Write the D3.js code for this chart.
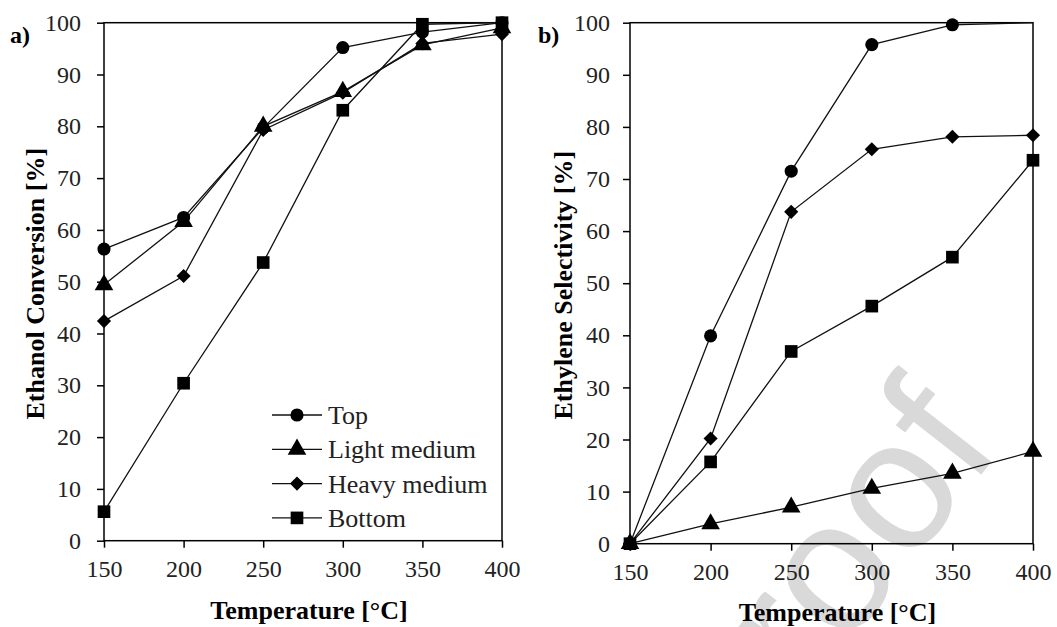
<!DOCTYPE html>
<html>
<head>
    <title>Conversion and selectivity</title>
    <script src="https://d3js.org/d3.v7.min.js"></script>
    <style>
        body { margin: 0; background: #fff; }
        #chart text { font-family: "Liberation Serif", "Times New Roman", serif; }
        #chart text.wm { font-family: "Liberation Sans", Arial, sans-serif; }
    </style>
</head>
<body>
<svg id="chart"></svg>
<script>
// temperatures [°C]
const temps = [150, 200, 250, 300, 350, 400];
const seriesNames = ["Top", "Light medium", "Heavy medium", "Bottom"];
const yTicks = [0, 10, 20, 30, 40, 50, 60, 70, 80, 90, 100];

// a) ethanol conversion [%]
const convTop    = [56.3, 62.4, 79.7, 95.2, 98.2, 100];
const convLight  = [49.4, 61.6, 80.0, 86.7, 95.7, 99.0];
const convHeavy  = [42.4, 51.1, 79.3, 86.5, 96.0, 97.8];
const convBottom = [5.6, 30.4, 53.7, 83.1, 99.7, 100];

// b) ethylene selectivity [%]
const selTop    = [0, 39.9, 71.5, 95.8, 99.6, 100];
const selLight  = [0, 3.8, 7.0, 10.6, 13.5, 17.7];
const selHeavy  = [0, 20.2, 63.7, 75.7, 78.1, 78.4];
const selBottom = [0, 15.7, 36.9, 45.6, 55.0, 73.6];

const W = 1057, H = 627;

const svg = d3.select('#chart').attr('width', W).attr('height', H);

// watermark behind everything
svg.append('text')
    .attr('class', 'wm')
    .attr('transform', 'translate(1003,447) rotate(-52)')
    .attr('text-anchor', 'end')
    .attr('font-size', '185px')
    .attr('fill', '#d9d9d9')
    .text('Pre-proof');

const symbols = [
    d3.symbol().type(d3.symbolCircle).size(135),
    d3.symbol().type(d3.symbolTriangle).size(150),
    d3.symbol().type(d3.symbolSquare).size(100),   // rotated -> diamond
    d3.symbol().type(d3.symbolSquare).size(160)
];
const rotations = [0, 0, 45, 0];

function drawPanel(opt) {
    const x = d3.scaleLinear().domain([150, 400]).range([opt.left, opt.right]);
    const y = d3.scaleLinear().domain([0, 100]).range([opt.bottom, opt.top]);
    const g = svg.append('g');

    // frame
    g.append('rect')
        .attr('x', opt.left).attr('y', opt.top)
        .attr('width', opt.right - opt.left).attr('height', opt.bottom - opt.top)
        .attr('fill', 'none').attr('stroke', '#000').attr('stroke-width', 1.5);

    const xAxis = g.append('g')
        .attr('transform', `translate(0,${opt.bottom})`)
        .call(d3.axisBottom(x).tickValues(temps).tickSize(7).tickPadding(12).tickFormat(d3.format('d')));
    const yAxis = g.append('g')
        .attr('transform', `translate(${opt.left},0)`)
        .call(d3.axisLeft(y).tickValues(yTicks).tickSize(7).tickPadding(opt.yPad));
    [xAxis, yAxis].forEach(a => {
        a.select('.domain').remove();
        a.selectAll('line').attr('stroke', '#000').attr('stroke-width', 1.5);
        a.selectAll('text')
            .attr('font-size', '24px')
            .attr('fill', '#222');
    });
    xAxis.selectAll('text').attr('dy', '0.71em');

    const line = d3.line().x((d, i) => x(temps[i])).y(d => y(d));
    opt.series.forEach((vals, s) => {
        g.append('path')
            .datum(vals)
            .attr('d', line)
            .attr('fill', 'none')
            .attr('stroke', '#111')
            .attr('stroke-width', 1.3);
    });
    opt.series.forEach((vals, s) => {
        // the reference shows no marker on the top-right corner point of panel b
        const shown = vals.map((v, i) => ({ v, i }))
            .filter(p => !(opt.hideCorner && p.i === temps.length - 1 && p.v >= 100));
        g.selectAll(null)
            .data(shown)
            .enter().append('path')
            .attr('d', symbols[s])
            .attr('transform', p => `translate(${x(temps[p.i])},${y(p.v)}) rotate(${rotations[s]})`)
            .attr('fill', '#000');
    });

    // axis titles
    g.append('text')
        .attr('x', (opt.left + opt.right) / 2 + 6)
        .attr('y', opt.xTitleY)
        .attr('text-anchor', 'middle')
        .attr('font-weight', 'bold')
        .attr('font-size', '26px')
        .text('Temperature [°C]');
    g.append('text')
        .attr('transform', `translate(${opt.yTitleX},${(opt.top + opt.bottom) / 2 + 2}) rotate(-90)`)
        .attr('text-anchor', 'middle')
        .attr('font-weight', 'bold')
        .attr('font-size', '26px')
        .text(opt.yTitle);
    g.append('text')
        .attr('x', opt.tagX).attr('y', 43)
        .attr('font-weight', 'bold')
        .attr('font-size', '24px')
        .text(opt.tag);
}

drawPanel({
    left: 104, right: 502, top: 22.7, bottom: 540.7,
    yPad: 16, xTitleY: 619, yTitleX: 44, tagX: 10,
    yTitle: 'Ethanol Conversion [%]', tag: 'a)', hideCorner: false,
    series: [convTop, convLight, convHeavy, convBottom]
});
drawPanel({
    left: 630, right: 1033, top: 22.7, bottom: 543.7,
    yPad: 13, xTitleY: 621, yTitleX: 572, tagX: 538,
    yTitle: 'Ethylene Selectivity [%]', tag: 'b)', hideCorner: true,
    series: [selTop, selLight, selHeavy, selBottom]
});

// legend in panel a
const legend = svg.append('g').attr('transform', 'translate(272,415)');
seriesNames.forEach((name, i) => {
    const row = legend.append('g').attr('transform', `translate(0,${i * 34.3})`);
    row.append('line').attr('x1', 0).attr('x2', 50).attr('y1', 0).attr('y2', 0)
        .attr('stroke', '#111').attr('stroke-width', 1.3);
    row.append('path').attr('d', symbols[i])
        .attr('transform', `translate(25,0) rotate(${rotations[i]})`).attr('fill', '#000');
    row.append('text').attr('x', 56).attr('y', 0).attr('dy', '0.35em')
        .attr('font-size', '26px').attr('fill', '#222')
        .text(name);
});
</script>
</body>
</html>
